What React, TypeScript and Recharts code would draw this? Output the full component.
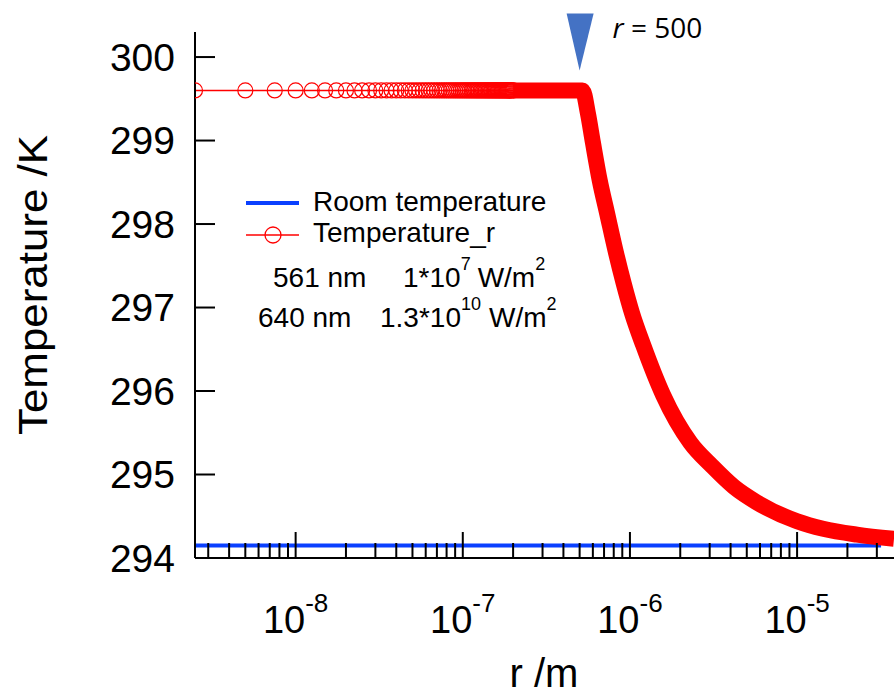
import { LineChart, Line, XAxis, YAxis, ReferenceDot } from "recharts"

// sampled radii of the circle markers (nm), flat part of Temperature_r
const circleR = [
  2.5, 5, 7.5, 10, 12.5, 15, 17.5, 20, 22.5, 25, 27.5, 30, 32.5, 35, 37.5, 40,
  42.5, 45, 47.5, 50, 52.5, 55, 57.5, 60, 62.5, 65, 67.5, 70, 72.5, 75, 77.5, 80,
  82.5, 85, 87.5, 90, 92.5, 95, 97.5, 100, 102.5, 105, 107.5, 110, 112.5, 115,
  117.5, 120, 122.5, 125, 127.5, 130, 132.5, 135, 137.5, 140, 142.5, 145, 147.5,
  150, 152.5, 155, 157.5, 160, 162.5, 165, 167.5, 170, 172.5, 175, 177.5, 180,
  182.5, 185, 187.5, 190, 192.5, 195, 197.5, 200,
]
const flatTemp = 299.6

// dense part of Temperature_r (markers merge into a solid band)
const bandR = [
  2e-7, 3e-7, 4e-7, 5.2e-7, 5.6e-7, 6.0e-7, 6.6e-7, 7.3e-7, 8.2e-7, 9.2e-7, 1.03e-6,
  1.2e-6, 1.58e-6, 2.3e-6, 3.1e-6, 4.2e-6, 5.7e-6, 1.0e-5, 1.43e-5, 2.28e-5, 3.8e-5,
]
const bandT = [
  299.6, 299.6, 299.6, 299.6, 299.33, 298.98, 298.52, 298.13, 297.68, 297.28, 296.93,
  296.55, 295.95, 295.38, 295.1, 294.85, 294.67, 294.44, 294.35, 294.28, 294.23,
]

const roomR = [2.5e-9, 3.18e-5]
const roomT = [294.15, 294.15]

const yTicks = [294, 295, 296, 297, 298, 299, 300]
const majorTicks = [1e-8, 1e-7, 1e-6, 1e-5]
const majorExp = ["-8", "-7", "-6", "-5"]
const mantissas = [2, 3, 4, 5, 6, 7, 8, 9]
const decades = [1e-9, 1e-8, 1e-7, 1e-6, 1e-5]

const X_MIN = 2.5e-9
const X_MAX = 3.8e-5

const circleData = circleR.map((r) => ({ r: r * 1e-9, t: flatTemp }))
const bandData = bandR.map((r, i) => ({ r, t: bandT[i] }))
const roomData = roomR.map((r, i) => ({ r, t: roomT[i] }))

const minorTicks = decades
  .flatMap((d) => mantissas.map((m) => m * d))
  .filter((v) => v > X_MIN && v < X_MAX)
const xTicks = [...majorTicks, ...minorTicks].sort((a, b) => a - b)

const FONT = "'Liberation Sans', Arial, sans-serif"
const RED = "#ff0000"
const BLUE = "#0a40ff"

function XTick(props: any) {
  const { x, y, payload } = props
  const v = payload.value
  const i = majorTicks.findIndex((t) => Math.abs(t - v) / t < 1e-6)
  const major = i >= 0
  return (
    <g>
      <line x1={x} x2={x} y1={y} y2={y - (major ? 26 : 15)} stroke="#000" strokeWidth={2} />
      {major && (
        <text x={x} y={y + 75} textAnchor="middle" fontSize={38} fontFamily={FONT} fill="#000">
          10
          <tspan dy={-21} fontSize={26}>
            {majorExp[i]}
          </tspan>
        </text>
      )}
    </g>
  )
}

function YTick(props: any) {
  const { x, y, payload } = props
  return (
    <g>
      <line x1={x} x2={x + 20} y1={y} y2={y} stroke="#000" strokeWidth={2} />
      <text x={x - 20} y={y} dy="0.35em" textAnchor="end" fontSize={39} fontFamily={FONT} fill="#000">
        {payload.value}
      </text>
    </g>
  )
}

function Marker(props: any) {
  const { cx, cy } = props
  return (
    <g>
      <polygon points={`${cx - 13},${cy - 57} ${cx + 14},${cy - 57} ${cx},${cy}`} fill="#4472c4" />
      <text x={cx + 33} y={cy - 32} fontSize={28} fontFamily="'Open Sans', sans-serif" fill="#000">
        <tspan fontStyle="italic">r</tspan> = 500
      </text>
    </g>
  )
}

function LegendBox() {
  const t = { fontFamily: FONT, fontSize: 28, fill: "#000" }
  return (
    <svg width={894} height={694} style={{ position: "absolute", left: 0, top: 0, pointerEvents: "none" }}>
      <line x1={246} x2={299} y1={203} y2={203} stroke={BLUE} strokeWidth={4} />
      <text x={313} y={211} {...t}>Room temperature</text>
      <line x1={246} x2={299} y1={235} y2={235} stroke={RED} strokeWidth={1.5} />
      <circle cx={273} cy={235} r={8} stroke={RED} strokeWidth={1.3} fill="none" />
      <text x={313} y={242} {...t}>Temperature_r</text>
      <text x={273} y={287} {...t}>
        561 nm
        <tspan x={403}>1*10</tspan>
        <tspan dy={-17} fontSize={18}>7</tspan>
        <tspan dy={17} dx={7}>W/m</tspan>
        <tspan dy={-17} fontSize={18}>2</tspan>
      </text>
      <text x={258} y={327} {...t}>
        640 nm
        <tspan x={380}>1.3*10</tspan>
        <tspan dy={-17} fontSize={18}>10</tspan>
        <tspan dy={17} dx={8}>W/m</tspan>
        <tspan dy={-17} fontSize={18}>2</tspan>
      </text>
    </svg>
  )
}

export default function App() {
  return (
    <div style={{ position: "absolute", left: 0, top: 0, width: 894, height: 694, background: "#fff" }}>
      <LineChart width={894} height={694} margin={{ top: 32, right: 0, bottom: 0, left: 0 }}>
        <XAxis
          dataKey="r"
          type="number"
          scale="log"
          domain={[X_MIN, X_MAX]}
          allowDataOverflow
          ticks={xTicks}
          interval={0}
          height={136}
          tickLine={false}
          tickSize={0}
          tickMargin={0}
          axisLine={{ stroke: "#000", strokeWidth: 2 }}
          tick={(p: any) => <XTick {...p} />}
          label={{
            content: () => (
              <text x={544} y={687} textAnchor="middle" fontSize={40} fontFamily={FONT} fill="#000">
                r /m
              </text>
            ),
          }}
        />
        <YAxis
          type="number"
          domain={[294, 300.3]}
          allowDataOverflow
          ticks={yTicks}
          interval={0}
          width={195}
          tickLine={false}
          tickSize={0}
          tickMargin={0}
          axisLine={{ stroke: "#000", strokeWidth: 2 }}
          tick={(p: any) => <YTick {...p} />}
          label={{
            content: () => (
              <text
                x={47}
                y={285}
                transform="rotate(-90, 47, 285)"
                textAnchor="middle"
                fontSize={41}
                textLength={300}
                lengthAdjust="spacingAndGlyphs"
                fontFamily={FONT}
                fill="#000"
              >
                Temperature /K
              </text>
            ),
          }}
        />
        <Line
          data={roomData}
          dataKey="t"
          stroke={BLUE}
          strokeWidth={4}
          dot={false}
          activeDot={false}
          isAnimationActive={false}
        />
        <Line
          data={bandData}
          dataKey="t"
          type="monotone"
          stroke={RED}
          strokeWidth={16}
          strokeLinejoin="round"
          dot={false}
          activeDot={false}
          isAnimationActive={false}
        />
        <Line
          data={circleData}
          dataKey="t"
          stroke={RED}
          strokeWidth={1.5}
          dot={{ r: 7.5, stroke: RED, strokeWidth: 1.2, fill: "none" }}
          activeDot={false}
          isAnimationActive={false}
        />
        <ReferenceDot x={5e-7} y={299.84} ifOverflow="visible" shape={(p: any) => <Marker {...p} />} />
      </LineChart>
      <LegendBox />
    </div>
  )
}
